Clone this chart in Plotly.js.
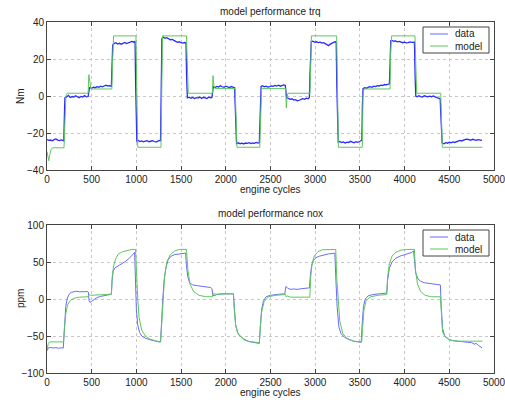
<!DOCTYPE html>
<html><head><meta charset="utf-8">
<script src="https://cdn.plot.ly/plotly-3.0.1.min.js"></script>
<style>html,body{margin:0;padding:0;background:#fff;}#chart{width:505px;height:402px;}</style>
</head><body><div id="chart"></div>
<script>
// ---- torque: measured data ----
const trqDataX = [0,20,40,60,80,100,120,140,160,180,188,195,200,220,240,260,280,300,320,340,360,380,400,420,440,460,468,475,500,520,540,560,580,600,620,640,660,680,700,720,728,735,750,770,790,810,830,850,870,890,910,930,950,970,985,992,998,1005,1020,1040,1060,1080,1100,1120,1140,1160,1180,1200,1220,1240,1260,1270,1277,1285,1300,1320,1340,1360,1380,1400,1420,1440,1460,1480,1500,1520,1540,1555,1562,1570,1590,1610,1630,1650,1670,1690,1710,1730,1750,1770,1790,1810,1830,1845,1852,1860,1880,1900,1920,1940,1960,1980,2000,2020,2040,2060,2080,2098,2105,2112,2120,2140,2160,2180,2200,2220,2240,2260,2280,2300,2320,2340,2360,2375,2382,2388,2395,2410,2430,2450,2470,2490,2510,2530,2550,2570,2590,2610,2630,2650,2665,2672,2680,2700,2720,2740,2760,2780,2800,2820,2840,2860,2880,2900,2920,2935,2942,2948,2956,2975,2995,3015,3035,3055,3075,3095,3115,3135,3150,3165,3185,3205,3225,3235,3242,3250,3258,3275,3295,3315,3335,3355,3375,3395,3415,3435,3455,3475,3495,3515,3522,3528,3535,3555,3575,3595,3615,3635,3655,3675,3695,3715,3735,3755,3775,3795,3815,3830,3838,3845,3860,3880,3900,3920,3940,3960,3980,4000,4020,4040,4060,4080,4100,4110,4118,4125,4140,4160,4180,4200,4220,4240,4260,4280,4300,4320,4340,4360,4380,4398,4405,4412,4420,4440,4460,4480,4500,4520,4540,4560,4580,4600,4620,4640,4660,4680,4700,4720,4740,4760,4780,4800,4820,4840,4860,4866];
const trqDataY = [-23.5,-24,-23.8,-24.2,-23.6,-23.2,-23.8,-24.1,-23.7,-24.3,-24.2,-10,-1,-0.5,0.3,-0.8,-0.3,-0.6,0.1,-0.4,-0.9,-0.2,-0.6,0.2,-0.5,-0.3,3,4.5,4.2,4.8,4.5,5.0,4.7,5.3,5.0,5.5,5.8,5.4,5.6,5.2,15,27.5,28.3,28.8,28.1,28.5,28.0,28.6,28.9,28.3,28.8,29.2,29.5,29.1,29.6,5,-22,-24.3,-24.0,-24.6,-24.3,-24.8,-24.4,-24.1,-24.7,-24.5,-24.2,-24.6,-24.9,-24.4,-24.0,-24.3,5,31.0,31.8,31.2,31.5,30.8,30.4,30.6,29.9,29.5,29.0,29.3,28.8,28.6,28.9,28.7,10,-1.0,-0.6,-1.2,-0.8,-1.4,-0.9,-1.1,-0.5,-1.3,-0.7,-1.0,-1.4,-0.6,-1.0,-0.8,3,5,4.6,5.2,4.8,5.5,5.0,4.7,5.3,5.0,4.6,5.1,4.8,4.5,-5,-24,-25.8,-25.3,-25.8,-25.5,-25.9,-25.4,-25.6,-25.2,-25.7,-25.4,-25.6,-25.1,-25.5,-25.3,-12,2,5.2,5.6,5.0,5.3,4.8,5.1,5.5,5.2,5.7,5.4,5.8,5.3,5.6,6.0,5.7,0,-1.0,-1.3,-1.8,-1.5,-2.2,-2.0,-2.6,-2.3,-1.9,-1.4,-1.8,-1.2,-1.5,-0.8,12,27,29.4,29.6,29.0,29.3,28.9,29.1,28.6,28.8,28.3,27.6,27.2,27.9,28.6,29.0,29.3,29.1,5,-20,-25.0,-24.6,-25.2,-24.8,-25.4,-24.9,-25.1,-24.5,-25.0,-25.3,-24.7,-25.0,-24.6,-24.3,-24.0,-5,4.0,4.5,4.2,4.8,5.0,4.7,5.3,5.1,5.6,5.4,5.9,5.7,6.2,6.0,6.4,6.6,18,29.8,30.0,29.6,29.8,29.3,29.5,29.0,28.8,29.1,28.7,28.9,29.2,29.0,29.3,29.1,10,0,-0.4,0.2,-0.3,-0.6,0.1,-0.2,-0.5,-0.1,-0.4,0.0,-0.6,-0.9,-1.2,-1.5,-10,-24,-25.4,-25.8,-25.2,-25.5,-25.0,-25.3,-24.8,-25.1,-24.6,-24.4,-24.0,-24.3,-23.8,-23.5,-23.3,-23.6,-23.9,-23.4,-23.8,-24.0,-23.6,-23.9,-24.2,-24.0];
// ---- torque: model ----
const trqModelX = [0,10,20,30,45,60,190,200,212,225,460,468,478,490,505,725,735,745,995,1005,1015,1275,1282,1292,1560,1570,1580,1850,1857,1866,1880,2105,2115,2125,2380,2390,2400,2670,2677,2685,2695,2942,2950,2958,3240,3250,3260,3527,3535,3545,3837,3845,3855,4116,4125,4135,4404,4412,4422,4870];
const trqModelY = [-30,-34,-35,-32,-29,-28,-28,-15,0,1.5,1.5,11.5,7,4.2,3.8,3.8,20,32.5,32.5,0,-27.7,-27.7,0,32.5,32.5,10,1.5,1.5,11,6,4.0,4.0,-20,-27.7,-27.7,-5,4.0,4.0,-6.5,-1,1.5,1.5,25,32.5,32.5,0,-27.7,-27.7,0,3.8,3.8,25,32.5,32.5,10,1.5,1.5,-10,-27.7,-27.7];
// ---- nox: measured data ----
const noxDataX = [0,15,40,70,100,130,160,182,190,200,210,225,245,270,300,330,360,390,420,450,462,470,480,500,530,560,600,640,680,720,728,740,760,790,820,850,880,910,940,960,980,990,1000,1015,1035,1060,1100,1150,1200,1250,1270,1280,1295,1310,1330,1355,1390,1430,1470,1510,1550,1560,1575,1595,1630,1680,1730,1780,1830,1845,1855,1870,1900,1950,2000,2050,2085,2095,2110,2130,2160,2200,2250,2300,2350,2375,2385,2400,2420,2450,2500,2550,2600,2660,2672,2690,2720,2760,2800,2850,2900,2935,2945,2960,2980,3010,3050,3100,3150,3200,3220,3230,3245,3265,3290,3330,3380,3430,3480,3515,3525,3540,3560,3590,3640,3700,3760,3800,3810,3830,3860,3900,3950,4000,4050,4080,4100,4110,4125,4150,4180,4220,4270,4320,4370,4400,4410,4425,4450,4500,4550,4600,4650,4700,4750,4780,4800,4830,4866];
const noxDataY = [-70,-66,-65.5,-66.2,-65.8,-66.5,-66.0,-66.3,-50,-25,-10,0,6,9,10,10.5,9.8,10.3,9.9,10.2,9.5,-2,-4.5,-3,-0.5,2,3.5,4.5,5.5,6.5,25,38,42,44,47,49,51,54,57,60,63,20,-15,-35,-45,-50,-53,-55,-57,-58,-58,-30,0,25,42,53,58,60,61,61.5,62,45,30,22,19,18,17,16,15.5,14,5,4.5,6,7,7.5,7,7,-10,-35,-45,-50,-54,-57,-58.5,-59.5,-60,-40,-15,-3,3,5,6,6.5,7,17,15,13,13.5,13,14,14.5,15,30,45,52,56,58,60,61,61.5,62,30,-10,-38,-47,-52,-55,-57,-58,-58.5,-35,-10,0,4,6,7,8,8,25,42,50,55,58,60,62,63,65,50,35,27,24,22,21,20,19.5,19,-10,-40,-50,-55,-56.5,-57,-58,-58.5,-59,-61,-60,-63,-66];
// ---- nox: model ----
const noxModelX = [0,15,30,185,195,210,230,260,300,360,460,468,490,560,640,720,730,745,770,800,850,900,950,990,1000,1015,1030,1060,1100,1150,1200,1270,1280,1295,1315,1340,1380,1430,1480,1560,1575,1600,1640,1700,1780,1850,1855,1900,2000,2085,2095,2110,2140,2200,2260,2375,2385,2400,2430,2480,2550,2670,2675,2690,2720,2800,2940,2950,2965,2990,3030,3080,3150,3230,3240,3255,3275,3310,3360,3430,3520,3530,3545,3570,3620,3700,3800,3810,3830,3860,3900,3960,4020,4110,4120,4145,4180,4230,4300,4400,4410,4425,4460,4520,4600,4870];
const noxModelY = [-68,-60,-58,-58,-40,-20,-8,-2,1,2.5,3,6,5,5.5,6,6.5,30,45,55,61,64,66,67,67,30,0,-25,-42,-50,-54,-56,-58,-40,-5,30,50,60,65,67,67,40,20,10,5,3,3,7,6.5,7,7,-15,-35,-48,-55,-57.5,-59,-40,-18,-3,3,5,6,3,4,2.5,2.5,2.5,30,48,58,64,66.5,67,67,30,0,-30,-47,-54,-57,-58,-40,-15,-2,3,5,6,30,48,58,63,66,67,67,40,20,10,5,3,3,-20,-45,-52,-56,-57,-57];

const seriesNames = ['data','model'];
const blue = '#2a2aff', blueLight = '#6b6bff', green = '#5cc85c';
const FONT = 'Liberation Sans, Arial, sans-serif';
const tickFont = {family:FONT, size:10, color:'#222'};

const traces = [
  {x:trqDataX, y:trqDataY, name:seriesNames[0], mode:'lines', line:{color:blue,width:1.3}, xaxis:'x', yaxis:'y'},
  {x:trqModelX, y:trqModelY, name:seriesNames[1], mode:'lines', line:{color:green,width:1}, xaxis:'x', yaxis:'y'},
  {x:noxDataX, y:noxDataY, name:seriesNames[0], mode:'lines', line:{color:blueLight,width:1}, xaxis:'x2', yaxis:'y2'},
  {x:noxModelX, y:noxModelY, name:seriesNames[1], mode:'lines', line:{color:green,width:1}, xaxis:'x2', yaxis:'y2'}
];

const W = 505, H = 402;
const px = v => v / W, py = v => 1 - v / H;
const xdom = [px(47), px(494)];
const axCommon = {showline:true, mirror:'ticks', linecolor:'#444', linewidth:1, ticks:'inside', ticklen:4, tickcolor:'#444',
  showgrid:true, gridcolor:'#c8c8c8', griddash:'dot', gridwidth:1, zeroline:false, tickfont:tickFont, ticklabeloverflow:'allow'};

// hand-drawn compact legends (MATLAB style)
function legendParts(top) {
  const shapes = [
    {type:'rect', xref:'paper', yref:'paper', x0:px(423), x1:px(489), y0:py(top), y1:py(top+26), line:{color:'#444', width:1}, fillcolor:'#fff', layer:'above'},
    {type:'line', xref:'paper', yref:'paper', x0:px(430), x1:px(448), y0:py(top+7), y1:py(top+7), line:{color:blueLight, width:1}, layer:'above'},
    {type:'line', xref:'paper', yref:'paper', x0:px(430), x1:px(448), y0:py(top+19), y1:py(top+19), line:{color:green, width:1}, layer:'above'}
  ];
  const anns = [
    {text:seriesNames[0], xref:'paper', yref:'paper', x:px(453), y:py(top+7), showarrow:false, font:tickFont, xanchor:'left', yanchor:'middle'},
    {text:seriesNames[1], xref:'paper', yref:'paper', x:px(453), y:py(top+19), showarrow:false, font:tickFont, xanchor:'left', yanchor:'middle'}
  ];
  return {shapes, anns};
}
const L1 = legendParts(27), L2 = legendParts(230);

const layout = {
  width:W, height:H, margin:{l:0,r:0,t:0,b:0}, paper_bgcolor:'#fff', plot_bgcolor:'#fff', showlegend:false,
  xaxis: Object.assign({}, axCommon, {domain:xdom, range:[0,5000], dtick:500, anchor:'y'}),
  yaxis: Object.assign({}, axCommon, {domain:[py(170), py(22)], range:[-40,40], dtick:20, anchor:'x'}),
  xaxis2: Object.assign({}, axCommon, {domain:xdom, range:[0,5000], dtick:500, anchor:'y2'}),
  yaxis2: Object.assign({}, axCommon, {domain:[py(373), py(225)], range:[-100,100], dtick:50, anchor:'x2'}),
  shapes: L1.shapes.concat(L2.shapes),
  annotations: [
    {text:'model performance trq', xref:'paper', yref:'paper', x:px(270), y:py(12), showarrow:false, font:tickFont, xanchor:'center', yanchor:'middle'},
    {text:'engine cycles', xref:'paper', yref:'paper', x:px(270), y:py(190), showarrow:false, font:tickFont, xanchor:'center', yanchor:'middle'},
    {text:'Nm', xref:'paper', yref:'paper', x:px(20), y:py(96), showarrow:false, font:tickFont, textangle:-90, xanchor:'center', yanchor:'middle'},
    {text:'model performance nox', xref:'paper', yref:'paper', x:px(270), y:py(213), showarrow:false, font:tickFont, xanchor:'center', yanchor:'middle'},
    {text:'engine cycles', xref:'paper', yref:'paper', x:px(270), y:py(392), showarrow:false, font:tickFont, xanchor:'center', yanchor:'middle'},
    {text:'ppm', xref:'paper', yref:'paper', x:px(20), y:py(299), showarrow:false, font:tickFont, textangle:-90, xanchor:'center', yanchor:'middle'}
  ].concat(L1.anns, L2.anns)
};
Plotly.newPlot('chart', traces, layout, {displayModeBar:false, staticPlot:true});
</script></body></html>
